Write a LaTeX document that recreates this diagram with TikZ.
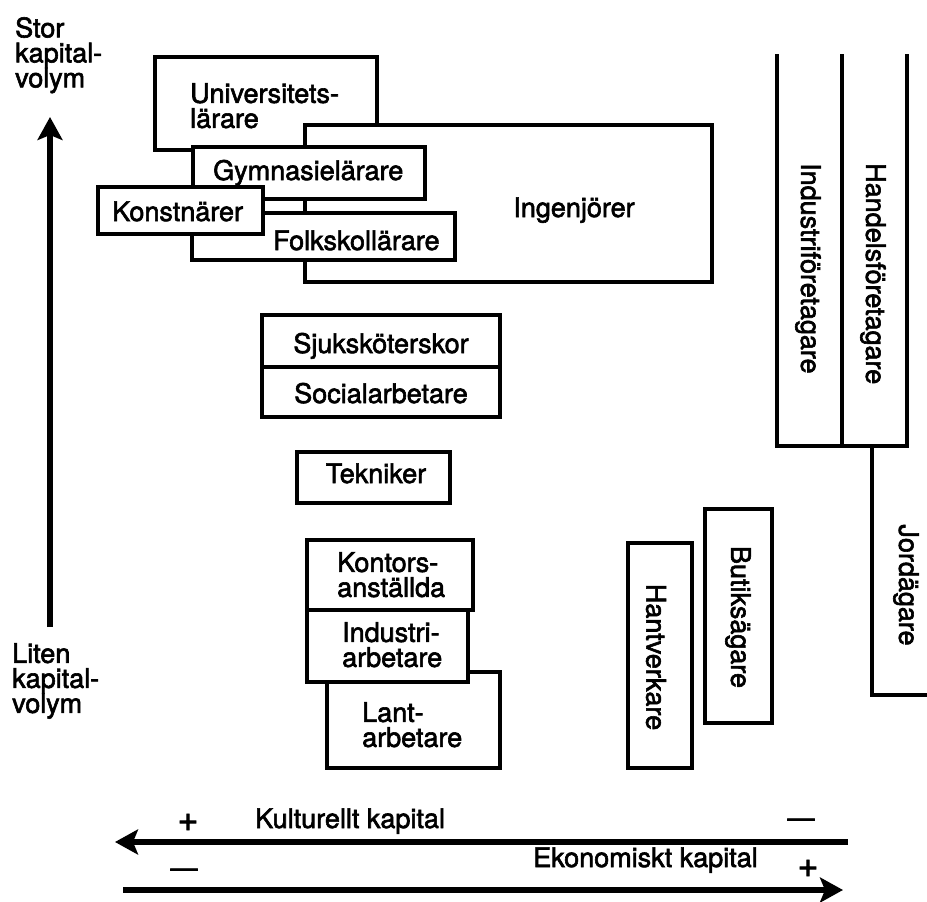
\documentclass[tikz,border=0pt]{standalone}
\usepackage{fontspec}
\setmainfont{TeX Gyre Heros}[FakeBold=2.2]
\usepackage{tikz}
\usetikzlibrary{arrows.meta}
\newcommand{\lblfont}{\fontsize{27}{25}\selectfont}
\newcommand{\signfont}{\fontsize{36}{36}\selectfont}
\setlength{\lineskiplimit}{-20pt}
\tikzset{
    box/.style={draw, line width=3.3pt, fill=white, line join=miter},
    frame/.style={draw, line width=3.3pt},
    axisarrow/.style={line width=5.5pt, -{Stealth[length=23pt, width=25pt, inset=5pt]}},
    sign/.style={anchor=base, font=\signfont},
    every node/.style={font=\lblfont, inner sep=0pt}
}

\begin{document}
\begin{tikzpicture}[x=1pt, y=-1pt]
    \useasboundingbox (0,0) rectangle (927,902);
    % vertical axis
    \node[anchor=north west, align=left] (stor) at (15,17) {Stor\\kapital-\\volym};
    \node[anchor=north west, align=left] (liten) at (12,643) {Liten\\kapital-\\volym};
    \coordinate (ybot) at (50,627);
    \coordinate (ytop) at (50,117);
    \draw[axisarrow] (ybot) -- (ytop);
    % teachers and engineers
    \draw[box] (155,57) rectangle (377,150);
    \node[anchor=north west, align=left] (univ) at (190,83) {Universitets-\\lärare};
    \draw[box] (305,125) rectangle (712,282);
    \node[anchor=base] (ingen) at (574,217) {Ingenjörer};
    \draw[box] (193,147) rectangle (425,199);
    \node[anchor=base west] (gymn) at (213,180) {Gymnasielärare};
    \draw[box] (192,213) rectangle (455,260);
    \node[anchor=base west] (folk) at (273,250) {Folkskollärare};
    \draw[box] (98,187) rectangle (263,234);
    \node[anchor=base west] (konst) at (112,221) {Konstnärer};
    % middle column
    \draw[box] (262,315) rectangle (500,367);
    \node[anchor=base] (sjuk) at (381,353) {Sjuksköterskor};
    \draw[box] (262,367) rectangle (500,417);
    \node[anchor=base] (social) at (381,403) {Socialarbetare};
    \draw[box] (297,452) rectangle (450,503);
    \node[anchor=base] (tekn) at (376,483) {Tekniker};
    \draw[box] (307,540) rectangle (473,610);
    \node[anchor=north west, align=left] (kontor) at (337,552) {Kontors-\\anställda};
    \draw[box] (327,672) rectangle (500,768);
    \node[anchor=north west, align=left] (lant) at (362,702) {Lant-\\arbetare};
    \draw[box] (307,610) rectangle (468,682);
    \node[anchor=north west, align=left] (indarb) at (342,622) {Industri-\\arbetare};
    % owners
    \draw[box] (628,543) rectangle (692,768);
    \node[rotate=-90] (hantv) at (656,657) {Hantverkare};
    \draw[box] (705,509) rectangle (772,723);
    \node[rotate=-90] (butik) at (738,617) {Butiksägare};
    \draw[frame] (777,54) -- (777,446) -- (907,446) -- (907,54);
    \draw[frame] (842,54) -- (842,446);
    \node[rotate=-90, anchor=west] (indfor) at (808,163) {Industriföretagare};
    \node[rotate=-90, anchor=west] (handel) at (873,163) {Handelsföretagare};
    \draw[frame] (872,446) -- (872,695) -- (927,695);
    \node[rotate=-90] (jord) at (906,585) {Jordägare};
    % horizontal axes
    \coordinate (kulA) at (848,842);
    \coordinate (kulB) at (115,842);
    \draw[axisarrow] (kulA) -- (kulB);
    \node[anchor=base west] (kultur) at (255,828) {Kulturellt kapital};
    \node[sign] (kplus) at (188,831) {+};
    \node[anchor=base] (kminus) at (801,827) {—};
    \coordinate (ekoA) at (123,890);
    \coordinate (ekoB) at (843,890);
    \draw[axisarrow] (ekoA) -- (ekoB);
    \node[anchor=base west] (ekon) at (533,867) {Ekonomiskt kapital};
    \node[anchor=base] (eminus) at (184,877) {—};
    \node[sign] (eplus) at (808,877) {+};
\end{tikzpicture}
\end{document}
